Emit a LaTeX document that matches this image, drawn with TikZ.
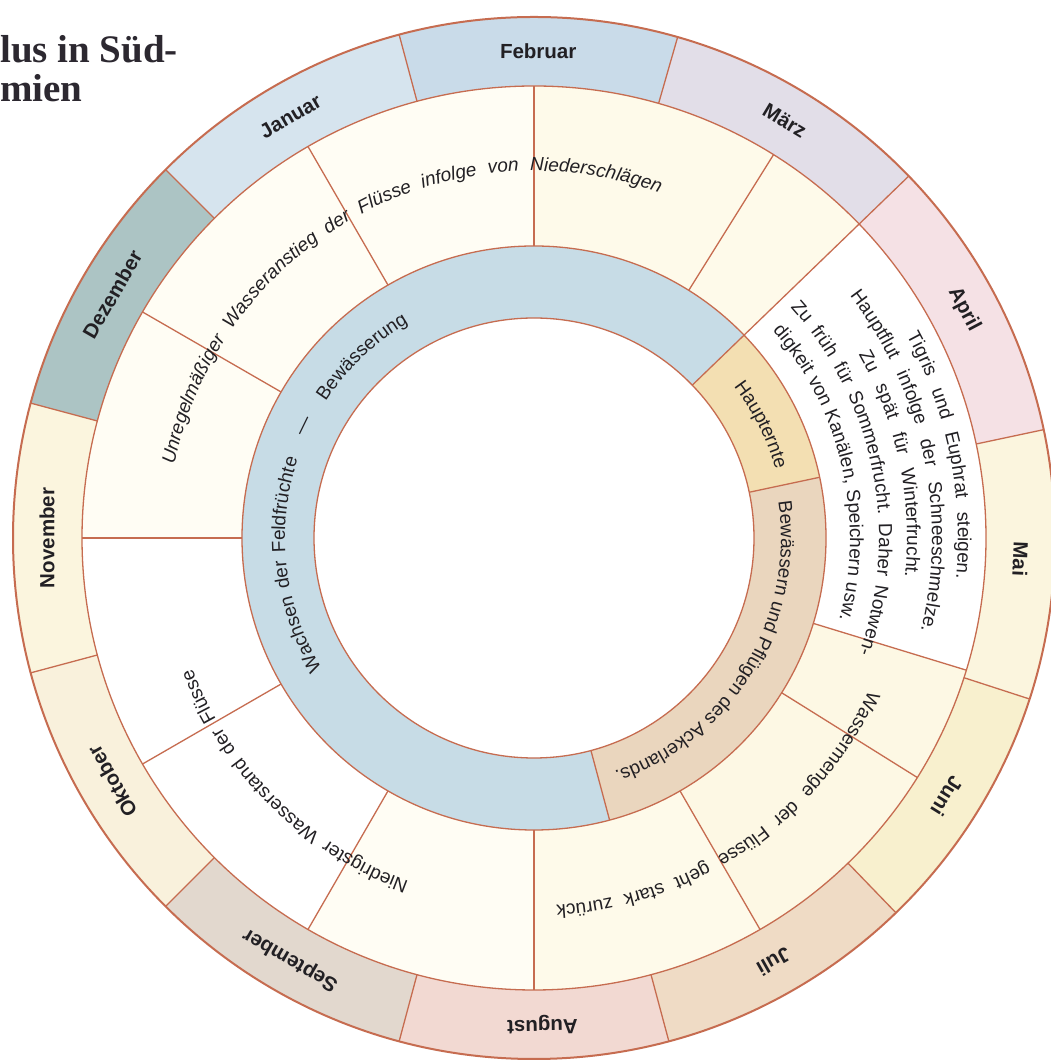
\documentclass[tikz,border=0pt]{standalone}
\usepackage{fontspec}
\setmainfont{Liberation Sans}
\newfontfamily\titlefont{Liberation Serif}
\usetikzlibrary{decorations.text}
\definecolor{linec}{RGB}{198,108,80}
\definecolor{textc}{RGB}{34,32,36}
\definecolor{titlec}{RGB}{44,40,48}
\definecolor{cFeb}{RGB}{201,219,233}
\definecolor{cJan}{RGB}{214,228,238}
\definecolor{cDez}{RGB}{172,196,196}
\definecolor{cNov}{RGB}{251,245,222}
\definecolor{cOkt}{RGB}{249,241,220}
\definecolor{cSep}{RGB}{226,216,206}
\definecolor{cAug}{RGB}{242,217,210}
\definecolor{cJul}{RGB}{239,219,197}
\definecolor{cJun}{RGB}{248,240,206}
\definecolor{cMai}{RGB}{251,245,222}
\definecolor{cApr}{RGB}{245,225,229}
\definecolor{cMar}{RGB}{226,222,232}
\definecolor{cMidA}{RGB}{255,253,244}
\definecolor{cMidB}{RGB}{254,250,234}
\definecolor{cMidC}{RGB}{253,248,228}
\definecolor{cBlue}{RGB}{199,220,230}
\definecolor{cHaupt}{RGB}{243,223,178}
\definecolor{cBew}{RGB}{234,214,190}
\newcommand{\txtsz}{\fontsize{19}{19}\selectfont}
\newcommand{\annsec}[5]{\fill[#5] (#1:#3) arc[start angle=#1,end angle=#2,radius=#3] -- (#2:#4) arc[start angle=#2,end angle=#1,radius=#4] -- cycle;}
\newcommand{\arctext}[5]{\path[decorate,decoration={text along path,text color=textc,text align={#4},text={#5}}] (#1:#3) arc[start angle=#1,end angle=#2,radius=#3];}
\tikzset{
  ringline/.style={draw=linec,line width=1.3},
  outerline/.style={draw=linec,line width=2},
  month/.style={font=\bfseries\fontsize{20.5}{20.5}\selectfont,text=textc,inner sep=0},
  plain/.style={font=\txtsz,text=textc,inner sep=0},
  titletext/.style={font=\titlefont\bfseries\fontsize{39}{39}\selectfont,text=titlec,inner sep=0,anchor=base west}
}
\begin{document}
\begin{tikzpicture}[x=1pt,y=1pt]
\useasboundingbox (0,0) rectangle (1051,1062);
\clip (0,0) rectangle (1051,1062);
\fill[white] (0,0) rectangle (1051,1062);
\node[titletext] (title1) at (0,999) {lus in Süd-};
\node[titletext] (title2) at (0,960) {mien};
\begin{scope}[shift={(534,524)}]
% month ring
\annsec{74}{105}{452}{521}{cFeb}
\annsec{105}{135}{452}{521}{cJan}
\annsec{135}{165}{452}{521}{cDez}
\annsec{165}{195}{452}{521}{cNov}
\annsec{195}{225}{452}{521}{cOkt}
\annsec{225}{255}{452}{521}{cSep}
\annsec{255}{285}{452}{521}{cAug}
\annsec{285}{314}{452}{521}{cJul}
\annsec{314}{342}{452}{521}{cJun}
\annsec{-18}{12}{452}{521}{cMai}
\annsec{12}{44}{452}{521}{cApr}
\annsec{44}{74}{452}{521}{cMar}
% middle ring
\annsec{120}{150}{292}{452}{cMidA}
\annsec{90}{120}{292}{452}{cMidA}
\annsec{58}{90}{292}{452}{cMidB}
\annsec{44}{58}{292}{452}{cMidB}
\annsec{-17}{44}{292}{452}{white}
\annsec{-32}{-17}{292}{452}{cMidC}
\annsec{-60}{-32}{292}{452}{cMidC}
\annsec{-90}{-60}{292}{452}{cMidB}
\annsec{240}{270}{292}{452}{cMidA}
\annsec{210}{240}{292}{452}{white}
\annsec{180}{210}{292}{452}{white}
\annsec{150}{180}{292}{452}{cMidA}
% inner ring
\annsec{44}{285}{220}{292}{cBlue}
\annsec{12}{44}{220}{292}{cHaupt}
\annsec{-75}{12}{220}{292}{cBew}
% circles
\draw[outerline] (0,0) circle[radius=521];
\draw[ringline] (0,0) circle[radius=452];
\draw[ringline] (0,0) circle[radius=292];
\draw[ringline] (0,0) circle[radius=220];
% month boundaries
\foreach \a in {74,105,135,165,195,225,255,285,314,342,12}
  \draw[ringline] (\a:452) -- (\a:521);
\draw[ringline] (44:220) -- (44:521);
% middle boundaries
\foreach \a in {120,90,58,-17,-32,-60,-90,240,210,180,150}
  \draw[ringline] (\a:292) -- (\a:452);
% inner boundaries
\foreach \a in {12,-75}
  \draw[ringline] (\a:220) -- (\a:292);
% month labels
\node[month,rotate=-0.5] (mFeb) at (89.5:487) {Februar};
\node[month,rotate=30] (mJan) at (120:487) {Januar};
\node[month,rotate=60] (mDez) at (150:487) {Dezember};
\node[month,rotate=90] (mNov) at (180:487) {November};
\node[month,rotate=120] (mOkt) at (210:487) {Oktober};
\node[month,rotate=150] (mSep) at (240:487) {September};
\node[month,rotate=181] (mAug) at (271:487) {August};
\node[month,rotate=209.5] (mJul) at (299.5:487) {Juli};
\node[month,rotate=238] (mJun) at (328:487) {Juni};
\node[month,rotate=267.5] (mMai) at (357.5:487) {Mai};
\node[month,rotate=-62] (mApr) at (28:487) {April};
\node[month,rotate=-31] (mMar) at (59:487) {März};
% middle ring texts
\arctext{168.5}{70}{367}{fit to path stretching spaces=true}{|\itshape\txtsz|Unregelmäßiger Wasseranstieg der Flüsse infolge von Niederschlägen}
\arctext{250}{201}{366}{fit to path stretching spaces=true}{|\txtsz|Niedrigster Wasserstand der Flüsse}
\arctext{-24.5}{-86.5}{368}{fit to path stretching spaces=true}{|\txtsz|Wassermenge der Flüsse geht stark zurück}
% April text
\arctext{28.5}{-5.5}{424}{fit to path stretching spaces=true}{|\txtsz|Tigris und Euphrat steigen.}
\arctext{37.5}{-13.5}{398}{fit to path stretching spaces=true}{|\txtsz|Hauptflut infolge der Schneeschmelze.}
\arctext{29.5}{-6}{373}{fit to path stretching spaces=true}{|\txtsz|Zu spät für Winterfrucht.}
\arctext{42}{-19.5}{345}{fit to path stretching spaces=true}{|\txtsz|Zu früh für Sommerfrucht. Daher Notwen-}
\arctext{41}{-15}{316}{fit to path stretching spaces=true}{|\txtsz|digkeit von Kanälen, Speichern usw.}
% inner ring texts
\arctext{211.5}{161.5}{249}{fit to path stretching spaces=true}{|\txtsz|Wachsen der Feldfrüchte}
\node[plain,rotate=64] (dash) at (154:254) {—};
\arctext{148}{119}{249}{center}{|\txtsz|Bewässerung}
\arctext{40}{13}{251}{center}{|\txtsz|Haupternte}
\arctext{8.5}{-71}{247}{fit to path stretching spaces=true}{|\txtsz|Bewässern und Pflügen des Ackerlands.}
\end{scope}
\end{tikzpicture}
\end{document}
